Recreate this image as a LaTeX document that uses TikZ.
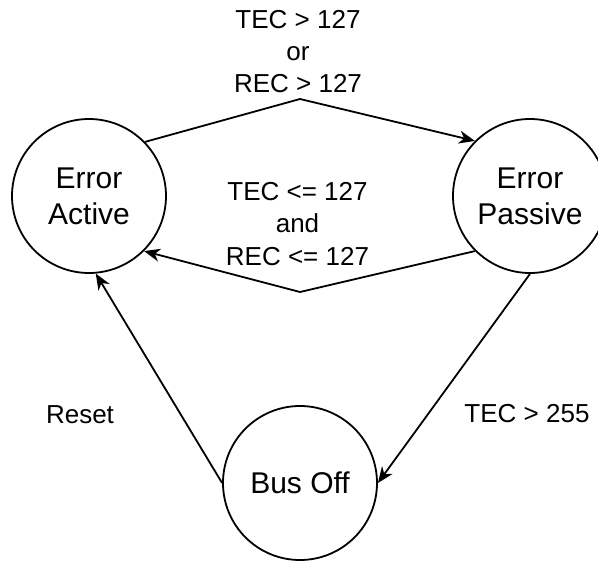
\documentclass[tikz,border=0pt]{standalone}
\usepackage{fontspec}
\setmainfont{Liberation Sans}
\usetikzlibrary{arrows.meta}
\begin{document}
\begin{tikzpicture}[x=1pt,y=-1pt,
  state/.style={circle,draw,line width=1.8pt,minimum size=154pt,inner sep=0pt,
    align=center,font=\fontsize{30}{36}\selectfont},
  cond/.style={align=center,inner sep=0pt,font=\fontsize{26}{32.4}\selectfont},
  trans/.style={line width=1.8pt,-{Stealth[length=16pt,width=13pt,inset=5pt]}}]
  \useasboundingbox (0,0) rectangle (598,562);
  % states
  \node[state] (ea) at (89,196) {Error\\Active};
  \node[state] (ep) at (530,196) {Error\\Passive};
  \node[state] (bo) at (300,483) {Bus Off};
  % bends of the two upper transitions
  \coordinate (up) at (300,99);
  \coordinate (dn) at (300,292);
  % transitions
  \draw[trans] (ea.44) -- (up) -- (ep.135);
  \draw[trans] (ep.225) -- (dn) -- (ea.-45);
  \draw[trans] (ep.270) -- (bo.east);
  \draw[trans] (bo.west) -- (ea.275);
  % conditions
  \node[cond] (c1) at (298,51.5) {TEC > 127\\or\\REC > 127};
  \node[cond] (c2) at (297.5,224) {TEC <= 127\\and\\REC <= 127};
  \node[cond] (c3) at (80,414.5) {Reset};
  \node[cond] (c4) at (527,413.5) {TEC > 255};
\end{tikzpicture}
\end{document}
